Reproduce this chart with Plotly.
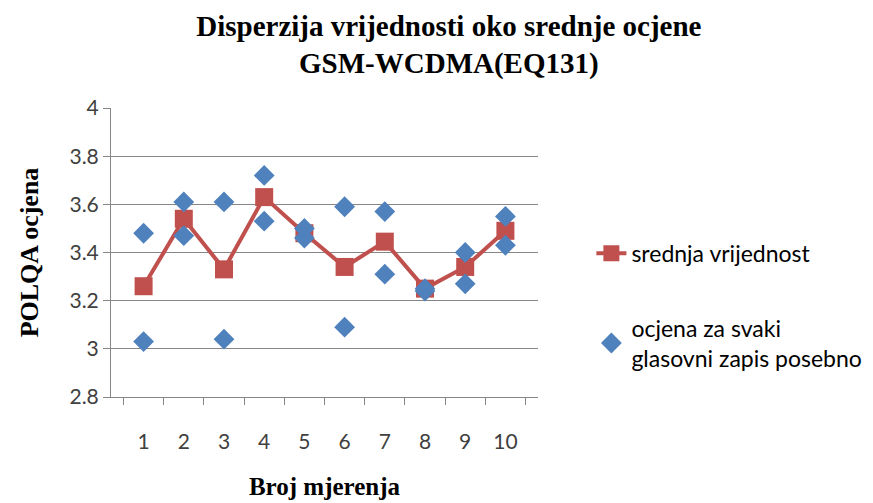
import plotly.graph_objs as go

mjerenja = ['1', '2', '3', '4', '5', '6', '7', '8', '9', '10']
srednja = [3.26, 3.54, 3.33, 3.63, 3.48, 3.34, 3.445, 3.25, 3.34, 3.49]
ocjena_a = [3.48, 3.61, 3.61, 3.72, 3.50, 3.59, 3.57, 3.25, 3.40, 3.55]
ocjena_b = [3.03, 3.47, 3.04, 3.53, 3.46, 3.09, 3.31, 3.24, 3.27, 3.43]
y_ticks = [2.8, 3, 3.2, 3.4, 3.6, 3.8, 4]

x_pts = mjerenja + mjerenja
y_pts = ocjena_a + ocjena_b

fig = go.Figure()
fig.add_trace(go.Scatter(
    x=mjerenja, y=srednja, mode='lines+markers', name='srednja vrijednost',
    line=dict(color='#C0504D', width=4),
    marker=dict(symbol='square', size=18, color='#C0504D'),
    legendgroup='a'))
fig.add_trace(go.Scatter(
    x=x_pts, y=y_pts, mode='markers',
    name='ocjena za svaki<br>glasovni zapis posebno',
    marker=dict(symbol='diamond', size=16, color='#4F81BD'),
    legendgroup='b'))

fig.update_layout(
    width=873, height=503,
    paper_bgcolor='white', plot_bgcolor='white',
    margin=dict(l=103, r=343, t=100, b=114, autoexpand=False),
    title=dict(
        text='Disperzija vrijednosti oko srednje ocjene<br>GSM-WCDMA(EQ131)',
        x=0.505, xanchor='center', y=0.945, yanchor='middle', yref='container',
        font=dict(family='Liberation Serif', size=29, color='black', weight='bold')),
    font=dict(family='Lato', size=21, color='#404040'),
    xaxis=dict(
        title=dict(text='Broj mjerenja', standoff=25,
                   font=dict(family='Liberation Serif', size=25, color='black', weight='bold')),
        type='category', tickson='boundaries', ticks='outside', ticklen=7,
        ticklabelstandoff=26, automargin=False,
        tickcolor='#868686', showline=True, linecolor='#868686', linewidth=1,
        showgrid=False),
    yaxis=dict(
        title=dict(text='POLQA ocjena', standoff=23,
                   font=dict(family='Liberation Serif', size=26, color='black', weight='bold')),
        range=[2.8, 4], tickvals=y_ticks, ticktext=[str(v) for v in y_ticks],
        ticks='outside', ticklen=7, tickcolor='#868686', automargin=False,
        showline=True, linecolor='#868686', linewidth=1,
        showgrid=True, gridcolor='#868686', gridwidth=1, zeroline=False),
    legend=dict(
        x=1.125, y=0.572, xanchor='left', yanchor='top',
        font=dict(family='Lato', size=23, color='black'),
        tracegroupgap=42, traceorder='grouped', bgcolor='rgba(0,0,0,0)'),
)

fig.write_html("out.html")
